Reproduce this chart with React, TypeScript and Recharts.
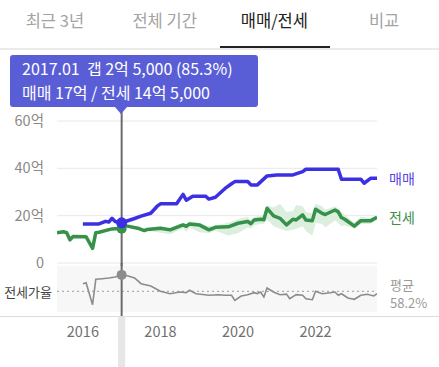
import React from 'react';
import {
  ComposedChart,
  LineChart,
  Line,
  Area,
  XAxis,
  YAxis,
  CartesianGrid,
  ReferenceLine,
  ReferenceDot,
  ReferenceArea,
} from 'recharts';

// 매매 (sale price, 억)
const maemaeMonths = [
  '2016.01', '2016.06', '2016.08', '2016.09', '2016.10', '2016.11', '2016.12', '2017.01',
  '2017.05', '2017.07', '2017.10', '2017.12', '2018.01', '2018.06', '2018.08', '2018.09',
  '2018.11', '2019.03', '2019.04', '2019.06', '2019.09', '2019.11', '2019.12', '2020.04',
  '2020.05', '2020.07', '2020.10', '2021.01', '2021.06', '2021.09', '2021.10', '2022.08',
  '2022.09', '2023.03', '2023.04', '2023.06', '2023.08',
];
const maemaeValues = [
  16.5, 16.5, 17.6, 17.3, 18.9, 17.5, 17.2, 17.0,
  18.8, 19.8, 21.0, 24.0, 25.0, 25.0, 29.0, 26.5,
  28.2, 28.2, 27.0, 27.8, 31.5, 33.5, 34.4, 34.4,
  33.0, 33.0, 36.8, 37.2, 37.2, 38.6, 39.6, 39.6,
  35.4, 35.4, 33.7, 35.8, 35.8,
];

// 전세 (jeonse price, 억) with its light range band
const jeonseMonths = [
  '2015.05', '2015.07', '2015.08', '2015.09', '2015.10', '2016.02', '2016.04', '2016.05',
  '2016.06', '2016.10', '2016.12', '2017.01', '2017.02', '2017.06', '2017.08', '2017.09',
  '2018.01', '2018.04', '2018.08', '2018.09', '2018.10', '2019.01', '2019.04', '2019.06',
  '2019.10', '2020.01', '2020.04', '2020.05', '2020.06', '2020.08', '2020.09', '2020.10',
  '2020.12', '2021.02', '2021.04', '2021.06', '2021.07', '2021.09', '2021.10', '2021.12',
  '2022.01', '2022.03', '2022.04', '2022.07', '2022.08', '2022.09', '2022.10', '2023.01',
  '2023.03', '2023.06', '2023.08',
];
const jeonseValues = [
  12.8, 13.2, 12.8, 9.8, 11.2, 11.1, 6.2, 12.8,
  13.0, 14.4, 14.6, 14.5, 15.8, 14.7, 13.7, 14.2,
  14.7, 14.0, 16.1, 15.5, 16.5, 16.1, 14.0, 15.1,
  15.3, 16.8, 17.5, 16.6, 18.2, 18.5, 18.3, 23.1,
  19.9, 18.9, 16.1, 18.5, 18.2, 20.3, 18.2, 17.9,
  22.7, 21.0, 20.5, 22.4, 21.6, 19.2, 18.5, 15.6,
  17.9, 17.8, 19.3,
];
const jeonseLow = [
  12.4, 12.8, 12.4, 9.4, 10.8, 10.7, 5.8, 12.4,
  12.6, 14.0, 14.2, 14.1, 15.4, 14.1, 13.1, 13.6,
  12.8, 12.2, 14.6, 13.2, 15.0, 13.0, 12.6, 13.6,
  11.6, 12.6, 15.0, 14.6, 16.0, 16.5, 16.5, 18.5,
  15.5, 14.5, 13.5, 14.0, 14.5, 15.5, 13.5, 11.5,
  17.0, 16.5, 15.0, 18.0, 17.0, 15.5, 16.0, 14.5,
  16.5, 16.5, 18.5,
];
const jeonseHigh = [
  13.2, 13.6, 13.2, 10.2, 11.6, 11.5, 6.6, 13.2,
  13.4, 14.8, 15.0, 14.9, 16.2, 15.3, 14.3, 14.8,
  15.5, 15.0, 17.0, 16.5, 17.5, 17.0, 15.5, 16.0,
  17.0, 18.5, 19.5, 18.0, 19.5, 20.0, 20.5, 24.5,
  23.5, 25.0, 21.5, 22.0, 24.5, 24.0, 21.5, 21.0,
  25.0, 24.0, 22.5, 24.0, 23.0, 21.5, 20.5, 17.0,
  19.5, 19.0, 20.0,
];

// 전세가율 (%)
const ratioMonths = [
  '2016.01', '2016.02', '2016.04', '2016.05', '2016.07', '2016.09', '2016.11', '2017.01',
  '2017.03', '2017.05', '2017.07', '2017.10', '2018.01', '2018.04', '2018.07', '2018.09',
  '2018.10', '2018.12', '2019.04', '2019.07', '2019.09', '2019.11', '2019.12', '2020.02',
  '2020.04', '2020.06', '2020.07', '2020.08', '2020.09', '2020.10', '2020.12', '2021.02',
  '2021.04', '2021.05', '2021.07', '2021.09', '2021.10', '2021.12', '2022.01', '2022.03',
  '2022.05', '2022.07', '2022.08', '2022.09', '2022.11', '2023.01', '2023.03', '2023.05',
  '2023.07', '2023.08',
];
const ratioValues = [
  70.8, 72.4, 36.0, 78.0, 79.0, 80.2, 81.8, 85.3,
  83.5, 80.2, 70.8, 67.0, 58.2, 54.2, 57.0, 56.0,
  59.9, 54.2, 51.6, 52.6, 51.6, 51.6, 43.3, 50.4,
  52.6, 55.9, 54.5, 57.0, 48.8, 63.7, 57.0, 52.6,
  53.5, 46.0, 52.6, 51.6, 46.0, 44.3, 58.2, 54.2,
  55.5, 57.0, 51.6, 54.2, 47.1, 45.0, 51.6, 53.3,
  50.5, 54.2,
];
const ratioAverage = 58.2;

const priceTicks = [0, 20, 40, 60];
const yearTicks = [2016, 2018, 2020, 2022];
const tabs = ['최근 3년', '전체 기간', '매매/전세', '비교'];
const activeTab = 2;
const cursorMonth = '2017.01';
const firstMonth = '2015.05';
const lastMonth = '2023.08';

const BLUE = '#3b30e2';
const GREEN = '#36914a';
const FONT = '"Noto Sans CJK KR", "Noto Sans", sans-serif';

const toT = (m: string) => {
  const [y, mo] = m.split('.').map(Number);
  return y + (mo - 1) / 12;
};

const rows = new Map<string, any>();
const row = (m: string) => {
  if (!rows.has(m)) rows.set(m, { t: toT(m) });
  return rows.get(m);
};
maemaeMonths.forEach((m, i) => (row(m).maemae = maemaeValues[i]));
jeonseMonths.forEach((m, i) => {
  const r = row(m);
  r.jeonse = jeonseValues[i];
  r.band = [jeonseLow[i], jeonseHigh[i]];
});
const priceData = [...rows.values()].sort((a, b) => a.t - b.t);
const ratioData = ratioMonths.map((m, i) => ({ t: toT(m), ratio: ratioValues[i] }));

const domainX = [toT(firstMonth), toT(lastMonth)];
const cursorT = toT(cursorMonth);
const cursorMaemae = maemaeValues[maemaeMonths.indexOf(cursorMonth)];
const cursorJeonse = jeonseValues[jeonseMonths.indexOf(cursorMonth)];
const cursorRatio = ratioValues[ratioMonths.indexOf(cursorMonth)];

const fmtEok = (v: number) => {
  const eok = Math.floor(v + 1e-9);
  const man = Math.round((v - eok) * 10000);
  if (man === 0) return `${eok}억`;
  return `${eok}억 ${man.toLocaleString('en-US')}`;
};

const endLabel = (text: string, color: string, key: string) => (p: any) => {
  if (p.index !== priceData.length - 1) return null;
  return (
    <text key={key} x={p.x + 12} y={p.y} dominantBaseline="central" fill={color} fontSize={14} fontFamily={FONT}>
      {text}
    </text>
  );
};

const tabW = 439 / tabs.length;

export default function App() {
  return (
    <div style={{ position: 'absolute', left: 0, top: 0, width: 439, height: 367, background: '#fff', fontFamily: FONT, overflow: 'hidden' }}>
      {/* tabs */}
      <div style={{ position: 'absolute', left: 0, top: 0, width: 439, height: 48, borderBottom: '2px solid #ebebeb', display: 'flex' }}>
        {tabs.map((t, i) => (
          <div key={t} style={{ width: tabW, textAlign: 'center', lineHeight: '41px', fontSize: 16.5, color: i === activeTab ? '#222' : '#a3a3a3' }}>
            {t}
          </div>
        ))}
        <div style={{ position: 'absolute', left: activeTab * tabW, top: 46, width: tabW + 1, height: 2, background: '#222' }} />
      </div>

      {/* main price chart */}
      <div style={{ position: 'absolute', left: 0, top: 0 }}>
        <ComposedChart width={439} height={272} data={priceData} margin={{ top: 121, right: 62, bottom: 9, left: 0 }}>
          <CartesianGrid vertical={false} stroke="#e8e8e8" />
          <XAxis dataKey="t" type="number" domain={domainX} hide allowDataOverflow />
          <YAxis
            domain={[0, 60]}
            ticks={priceTicks}
            width={57}
            axisLine={false}
            tickLine={false}
            tickMargin={7}
            tick={{ fill: '#8a8a8a', fontSize: 14.5, fontFamily: FONT }}
            tickFormatter={(v: number) => (v === 0 ? '0' : `${v}억`)}
          />
          <Area dataKey="band" stroke="none" fill="#dcefdf" fillOpacity={1} connectNulls isAnimationActive={false} activeDot={false} />
          <ReferenceLine
            segment={[{ x: cursorT, y: 66 }, { x: cursorT, y: -1.5 }]}
            stroke="#6b6b6b"
            strokeWidth={2}
            ifOverflow="visible"
          />
          <Line
            dataKey="jeonse"
            stroke={GREEN}
            strokeWidth={3.5}
            dot={false}
            activeDot={false}
            connectNulls
            strokeLinejoin="round"
            isAnimationActive={false}
            label={endLabel('전세', '#3d8f50', 'lj')}
          />
          <Line
            dataKey="maemae"
            stroke={BLUE}
            strokeWidth={3.5}
            dot={false}
            activeDot={false}
            connectNulls
            strokeLinejoin="round"
            isAnimationActive={false}
            label={endLabel('매매', '#5a48e0', 'lm')}
          />
          <ReferenceDot x={cursorT} y={cursorJeonse} r={5} fill={GREEN} stroke="none" />
          <ReferenceDot x={cursorT} y={cursorMaemae} r={5.5} fill={BLUE} stroke="none" />
        </ComposedChart>
      </div>

      {/* ratio chart */}
      <div style={{ position: 'absolute', left: 0, top: 263 }}>
        <LineChart width={439} height={104} data={ratioData} margin={{ top: 3, right: 62, bottom: 25, left: 57 }}>
          <CartesianGrid horizontal={false} vertical={false} fill="#f7f7f7" />
          <XAxis
            dataKey="t"
            type="number"
            domain={domainX}
            ticks={yearTicks}
            axisLine={false}
            tickLine={false}
            tickMargin={9}
            tick={{ fill: '#707070', fontSize: 14.5, fontFamily: FONT }}
            allowDataOverflow
          />
          <YAxis domain={[24, 100]} hide allowDataOverflow />
          <ReferenceArea x1={cursorT - 0.09} x2={cursorT + 0.09} y1={-70} y2={15.7} fill="#e6e6e6" fillOpacity={1} stroke="none" ifOverflow="visible" />
          <ReferenceLine
            y={ratioAverage}
            stroke="#9a9a9a"
            strokeDasharray="2 3"
            label={(p: any) => {
              const vb = p.viewBox;
              return (
                <g>
                  <text x={vb.x - 5} y={vb.y} textAnchor="end" dominantBaseline="central" fill="#444" fontSize={13} fontFamily={FONT}>
                    전세가율
                  </text>
                  <text x={vb.x + vb.width + 13} y={vb.y - 7} dominantBaseline="central" fill="#9a9a9a" fontSize={13} fontFamily={FONT}>
                    평균
                  </text>
                  <text x={vb.x + vb.width + 13} y={vb.y + 11} dominantBaseline="central" fill="#9a9a9a" fontSize={13} fontFamily={FONT}>
                    {`${ratioAverage}%`}
                  </text>
                </g>
              );
            }}
          />
          <Line dataKey="ratio" stroke="#8c8c8c" strokeWidth={1.6} dot={false} activeDot={false} isAnimationActive={false} />
          <ReferenceLine
            segment={[{ x: cursorT, y: 105 }, { x: cursorT, y: 15.7 }]}
            stroke="#6b6b6b"
            strokeWidth={2}
            ifOverflow="visible"
          />
          <ReferenceDot x={cursorT} y={cursorRatio} r={5} fill="#8c8c8c" stroke="none" />
        </LineChart>
      </div>

      {/* axis divider */}
      <div style={{ position: 'absolute', left: 0, top: 316, width: 439, height: 1, background: '#dcdcdc' }} />

      {/* tooltip */}
      <div
        style={{
          position: 'absolute',
          left: 10,
          top: 55,
          width: 248,
          height: 52,
          background: '#5a5ed6',
          borderRadius: 3,
          color: '#fff',
          fontSize: 16,
          lineHeight: '23.5px',
          padding: '2px 0 0 12px',
          boxSizing: 'border-box',
          whiteSpace: 'nowrap',
        }}
      >
        <div>{`${cursorMonth}\u00a0\u00a0갭 ${fmtEok(cursorMaemae - cursorJeonse)} (${cursorRatio}%)`}</div>
        <div>{`매매 ${fmtEok(cursorMaemae)} / 전세 ${fmtEok(cursorJeonse)}`}</div>
      </div>
      <div
        style={{
          position: 'absolute',
          left: 115,
          top: 107,
          width: 0,
          height: 0,
          borderLeft: '6px solid transparent',
          borderRight: '6px solid transparent',
          borderTop: '7px solid #5a5ed6',
        }}
      />
    </div>
  );
}
